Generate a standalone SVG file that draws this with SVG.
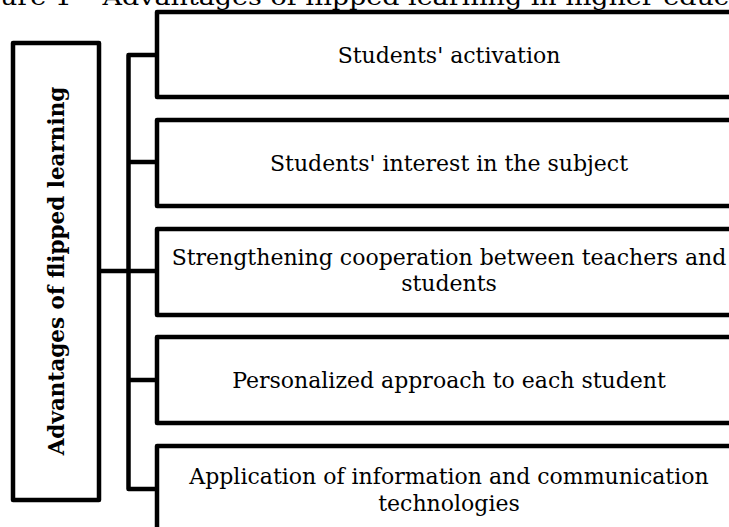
<svg xmlns="http://www.w3.org/2000/svg" width="729" height="527" viewBox="0 0 729 527">
<style>
.box{fill:#fff;stroke:#000;stroke-width:4.5;stroke-linejoin:round}
.con{fill:none;stroke:#000;stroke-width:4.5;stroke-linejoin:round}
.lbl{font-family:"DejaVu Serif","Liberation Serif",serif;font-size:22px;fill:#000;text-anchor:middle}
.main{font-family:"DejaVu Serif","Liberation Serif",serif;font-size:21.5px;font-weight:bold;fill:#000;text-anchor:middle}
.title{font-family:"DejaVu Serif","Liberation Serif",serif;font-size:23px;fill:#000}
</style>
<rect width="729" height="527" fill="#fff"/>
<text class="title" x="0" y="5" textLength="745" lengthAdjust="spacingAndGlyphs">ure 1 – Advantages of flipped learning in higher educa</text>
<g id="connectors">
<path class="con" d="M157,55 H128.5 V489 H157"/>
<path class="con" d="M128.5,162 H157"/>
<path class="con" d="M99,271 H157"/>
<path class="con" d="M128.5,380 H157"/>
</g>
<g id="root">
<rect class="box" x="13" y="43" width="86" height="457"/>
<text class="main" transform="translate(64,271) rotate(-90)">Advantages of flipped learning</text>
</g>
<g id="n1">
<rect class="box" x="157" y="12" width="584" height="85"/>
<text class="lbl" x="449" y="63">Students' activation</text>
</g>
<g id="n2">
<rect class="box" x="157" y="120" width="584" height="86"/>
<text class="lbl" x="449" y="171">Students' interest in the subject</text>
</g>
<g id="n3">
<rect class="box" x="157" y="229" width="584" height="86"/>
<text class="lbl" x="449" y="265">Strengthening cooperation between teachers and</text>
<text class="lbl" x="449" y="291">students</text>
</g>
<g id="n4">
<rect class="box" x="157" y="337" width="584" height="86"/>
<text class="lbl" x="449" y="388">Personalized approach to each student</text>
</g>
<g id="n5">
<rect class="box" x="157" y="446" width="584" height="90"/>
<text class="lbl" x="449" y="484">Application of information and communication</text>
<text class="lbl" x="449" y="511">technologies</text>
</g>
</svg>
